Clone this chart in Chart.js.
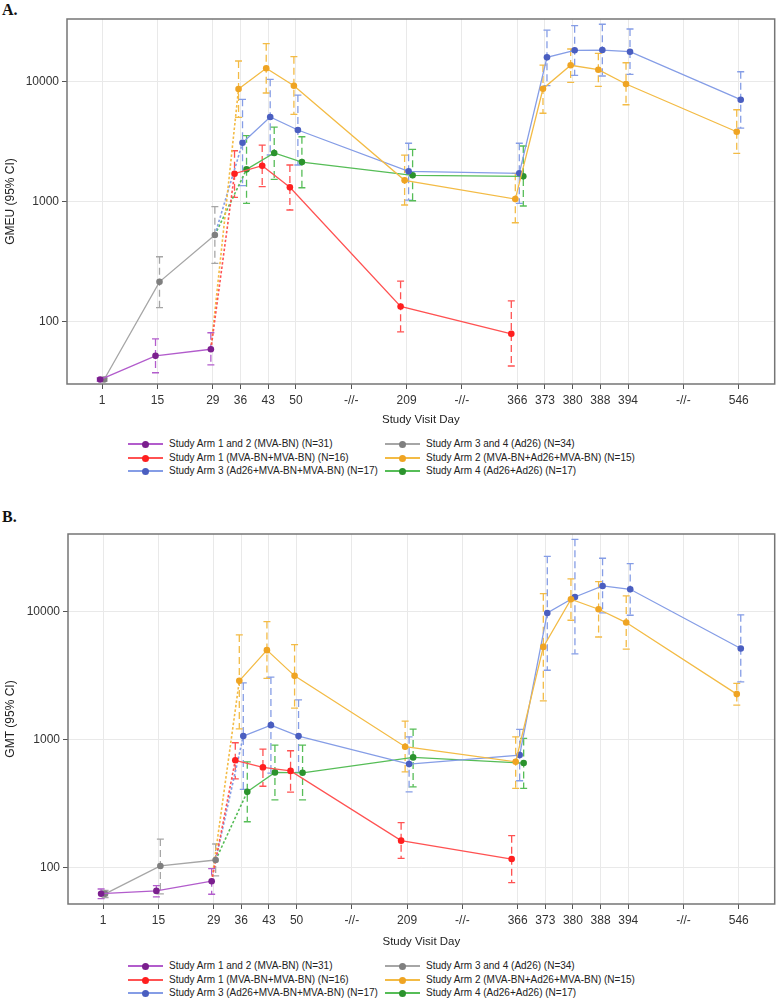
<!DOCTYPE html>
<html>
<head>
<meta charset="utf-8">
<script src="https://cdn.jsdelivr.net/npm/chart.js@4.4.1/dist/chart.umd.min.js"></script>
<style>
html,body{margin:0;padding:0;background:#fff;}
#page{position:relative;width:778px;height:1000px;overflow:hidden;font-family:"Liberation Sans",Arial,sans-serif;}
#page canvas{position:absolute;left:0;}
.plabel{position:absolute;left:2px;font-family:"Liberation Serif","Times New Roman",serif;font-weight:bold;font-size:16px;line-height:16px;color:#111;}
.leg{position:absolute;font-size:10px;line-height:12px;color:#222;white-space:nowrap;padding-left:41px;}
.leg .ln{position:absolute;left:0;top:5px;width:35px;height:0;border-top:2px solid;}
.leg .dt{position:absolute;left:14px;top:3px;width:7px;height:7px;border-radius:50%;}
</style>
</head>
<body>
<div id="page">
  <div class="plabel" style="top:2px;">A.</div>
  <canvas id="chartA" width="778" height="430" style="top:0px;"></canvas>
  <div class="plabel" style="top:509px;">B.</div>
  <canvas id="chartB" width="778" height="442" style="top:510px;"></canvas>
</div>
<script>
// ---------- axis ----------
const axisLabels = ['1','15','29','36','43','50','-//-','209','-//-','366','373','380','388','394','-//-','546'];
const axisSlots  = [0, 2, 4, 5, 6, 7, 9, 11, 13, 15, 16, 17, 18, 19, 21, 23];
const yTickValues = [100, 1000, 10000];

// ---------- visit days per series ----------
const daysEarly = [1, 15, 29];
const daysShort = [36, 43, 50, 209, 366];
const daysLong  = [36, 43, 50, 209, 366, 373, 380, 388, 394, 546];

// ---------- Panel A: GMEU (95% CI) ----------
const aArm12   = [33, 52, 59];
const aArm12Lo = [32, 37.6, 43.8];
const aArm12Hi = [34, 72, 81];
const aArm34   = [33, 215, 528];
const aArm34Lo = [32, 131, 307];
const aArm34Hi = [34, 348, 909];
const aArm1    = [1711, 1995, 1318, 134, 79.4];
const aArm1Lo  = [1088, 1334, 853, 82.5, 42.8];
const aArm1Hi  = [2660, 2968, 2023, 218, 149];
const aArm2    = [8690, 12930, 9260, 1507, 1053, 8740, 13700, 12590, 9570, 3830];
const aArm2Lo  = [5045, 8050, 5350, 939, 668, 5460, 9890, 9160, 6430, 2530];
const aArm2Hi  = [14880, 20740, 16150, 2449, 1725, 13770, 18730, 17250, 14390, 5840];
const aArm3    = [3100, 5080, 3960, 1792, 1725, 15960, 18270, 18360, 17780, 7080];
const aArm3Lo  = [1360, 2450, 2023, 1033, 970, 9260, 11290, 11160, 11530, 4110];
const aArm3Hi  = [7130, 10470, 7740, 3070, 3070, 26900, 29300, 30100, 27500, 12110];
const aArm4    = [1862, 2547, 2141, 1660, 1628];
const aArm4Lo  = [970, 1537, 1308, 1019, 921];
const aArm4Hi  = [3550, 4190, 3480, 2735, 2913];

// ---------- Panel B: GMT (95% CI) ----------
const bArm12   = [62.1, 65.3, 77.8];
const bArm12Lo = [56.9, 58.6, 61.5];
const bArm12Hi = [67.6, 71.8, 97.5];
const bArm34   = [62, 102.4, 114];
const bArm34Lo = [58, 62, 85.5];
const bArm34Hi = [66, 166, 152];
const bArm1    = [686, 604, 567, 161.5, 116];
const bArm1Lo  = [492, 430, 387, 117.5, 75.9];
const bArm1Hi  = [941, 840, 815, 223, 176.6];
const bArm2    = [2870, 4990, 3140, 876, 668, 5290, 12480, 10420, 8200, 2260];
const bArm2Lo  = [1210, 2998, 1756, 558, 414, 2000, 8550, 6320, 5076, 1854];
const bArm2Hi  = [6560, 8350, 5520, 1390, 1048, 13800, 17990, 17140, 13240, 2738];
const bArm3    = [1061, 1293, 1061, 641, 754, 9750, 13000, 15850, 14930, 5140];
const bArm3Lo  = [407, 545, 553, 389, 475, 3475, 4665, 9750, 9350, 2820];
const bArm3Hi  = [2766, 3070, 2037, 1048, 1197, 27040, 36700, 26100, 23710, 9420];
const bArm4    = [389, 552, 548, 723, 653];
const bArm4Lo  = [227, 336, 336, 426, 414];
const bArm4Hi  = [668, 902, 902, 1204, 1018];

// ---------- series styling ----------
const arms = {
  arm12: {label:'Study Arm 1 and 2 (MVA-BN) (N=31)',          marker:'#7b1f8e', line:'#b25ccc', shift:-0.072},
  arm34: {label:'Study Arm 3 and 4 (Ad26) (N=34)',            marker:'#7f7f7f', line:'#a6a6a6', shift: 0.072},
  arm1:  {label:'Study Arm 1 (MVA-BN+MVA-BN) (N=16)',         marker:'#ff1f1f', line:'#ff5252', shift:-0.217},
  arm2:  {label:'Study Arm 2 (MVA-BN+Ad26+MVA-BN) (N=15)',    marker:'#efa423', line:'#f3bb45', shift:-0.072},
  arm3:  {label:'Study Arm 3 (Ad26+MVA-BN+MVA-BN) (N=17)',    marker:'#4a5ec0', line:'#859de6', shift: 0.072},
  arm4:  {label:'Study Arm 4 (Ad26+Ad26) (N=17)',             marker:'#2b932d', line:'#56bd57', shift: 0.217}
};
const legendOrder = ['arm12','arm34','arm1','arm2','arm3','arm4'];

function slotOfDay(d){ return axisSlots[axisLabels.indexOf(String(d))]; }

function armDataset(arm, days, gm, lo, hi){
  return {
    label: arm.label,
    data: days.map((d,i)=>({x: slotOfDay(d)+arm.shift, y: gm[i]})),
    errLo: lo, errHi: hi, errColor: arm.line,
    borderColor: arm.line, backgroundColor: arm.marker,
    pointBackgroundColor: arm.marker, pointBorderColor: arm.marker,
    pointRadius: 3.3, pointBorderWidth: 0, pointHoverRadius: 3.3,
    borderWidth: 1.3, showLine: true, tension: 0, order: 1
  };
}
function connector(fromArm, fromDays, fromGm, toArm, toDays, toGm){
  const i = fromDays.length - 1;
  return {
    label: '',
    data: [{x: slotOfDay(fromDays[i])+fromArm.shift, y: fromGm[i]},
           {x: slotOfDay(toDays[0])+toArm.shift,     y: toGm[0]}],
    borderColor: toArm.line, borderDash:[2.5,2], borderWidth:1.6,
    pointRadius:0, showLine:true, tension:0, order: 3
  };
}

const errorBarPlugin = {
  id: 'errbars',
  beforeDatasetsDraw(chart){
    const {ctx, chartArea, scales:{x, y}} = chart;
    ctx.save();
    ctx.beginPath();
    ctx.rect(chartArea.left, chartArea.top, chartArea.right-chartArea.left, chartArea.bottom-chartArea.top);
    ctx.clip();
    chart.data.datasets.forEach(ds=>{
      if(!ds.errLo) return;
      ds.data.forEach((p,i)=>{
        const px = x.getPixelForValue(p.x);
        const yl = y.getPixelForValue(ds.errLo[i]);
        const yh = y.getPixelForValue(ds.errHi[i]);
        ctx.strokeStyle = ds.errColor;
        ctx.lineWidth = 1.3;
        ctx.setLineDash([7,4]);
        ctx.beginPath(); ctx.moveTo(px, yh); ctx.lineTo(px, yl); ctx.stroke();
        ctx.setLineDash([]);
        ctx.beginPath();
        ctx.moveTo(px-3.5, yh); ctx.lineTo(px+3.5, yh);
        ctx.moveTo(px-3.5, yl); ctx.lineTo(px+3.5, yl);
        ctx.stroke();
      });
    });
    ctx.restore();
  },
  afterDraw(chart){
    const {ctx, chartArea:a} = chart;
    ctx.save();
    ctx.strokeStyle = '#757575';
    ctx.lineWidth = 1.5;
    ctx.strokeRect(a.left, a.top, a.right-a.left, a.bottom-a.top);
    ctx.restore();
  }
};

function makeChart(id, cfg){
  const ds = [
    armDataset(arms.arm12, daysEarly, cfg.g12, cfg.l12, cfg.h12),
    armDataset(arms.arm34, daysEarly, cfg.g34, cfg.l34, cfg.h34),
    armDataset(arms.arm1,  daysShort, cfg.g1,  cfg.l1,  cfg.h1),
    armDataset(arms.arm2,  daysLong,  cfg.g2,  cfg.l2,  cfg.h2),
    armDataset(arms.arm3,  daysLong,  cfg.g3,  cfg.l3,  cfg.h3),
    armDataset(arms.arm4,  daysShort, cfg.g4,  cfg.l4,  cfg.h4),
    connector(arms.arm12, daysEarly, cfg.g12, arms.arm1, daysShort, cfg.g1),
    connector(arms.arm12, daysEarly, cfg.g12, arms.arm2, daysLong,  cfg.g2),
    connector(arms.arm34, daysEarly, cfg.g34, arms.arm3, daysLong,  cfg.g3),
    connector(arms.arm34, daysEarly, cfg.g34, arms.arm4, daysShort, cfg.g4)
  ];
  return new Chart(document.getElementById(id), {
    type: 'scatter',
    data: { datasets: ds },
    plugins: [errorBarPlugin],
    options: {
      responsive: false, animation: false, devicePixelRatio: 1,
      layout: { padding: { top: cfg.padTop, right: 2, left: 0, bottom: 0 } },
      plugins: { legend: {display:false}, tooltip: {enabled:false}, title:{display:false} },
      scales: {
        x: {
          type: 'linear', min: -1.27, max: 24.3,
          afterBuildTicks: s => { s.ticks = axisSlots.map(v => ({value: v})); },
          afterFit: s => { s.height = cfg.xHeight; },
          ticks: { autoSkip:false, maxRotation:0, padding:4, color:'#333',
                   font:{family:'"Liberation Sans", Arial, sans-serif', size:12},
                   callback: (v, i) => axisLabels[i] },
          grid: { color:'#e9e9e9', lineWidth:1, tickColor:'#555', tickLength:5, drawTicks:true },
          border: { display:false },
          title: { display:true, text:'Study Visit Day', color:'#222',
                   font:{family:'"Liberation Sans", Arial, sans-serif', size:11.5},
                   padding:{top:0, bottom:3} }
        },
        y: {
          type: 'logarithmic', min: cfg.yMin, max: cfg.yMax,
          afterBuildTicks: s => { s.ticks = yTickValues.map(v => ({value: v})); },
          afterFit: s => { s.width = cfg.yWidth; },
          ticks: { padding:3, color:'#333',
                   font:{family:'"Liberation Sans", Arial, sans-serif', size:12},
                   callback: v => String(v) },
          grid: { color:'#e9e9e9', lineWidth:1, tickColor:'#555', tickLength:5, drawTicks:true },
          border: { display:false },
          title: { display:true, text: cfg.yTitle, color:'#222',
                   font:{family:'"Liberation Sans", Arial, sans-serif', size:12},
                   padding:{top:3, bottom:0} }
        }
      }
    }
  });
}

makeChart('chartA', {
  yTitle:'GMEU (95% CI)', yMin:30.3, yMax:33300, padTop:19, xHeight:46, yWidth:67,
  g12:aArm12, l12:aArm12Lo, h12:aArm12Hi, g34:aArm34, l34:aArm34Lo, h34:aArm34Hi,
  g1:aArm1, l1:aArm1Lo, h1:aArm1Hi, g2:aArm2, l2:aArm2Lo, h2:aArm2Hi,
  g3:aArm3, l3:aArm3Lo, h3:aArm3Hi, g4:aArm4, l4:aArm4Lo, h4:aArm4Hi
});
makeChart('chartB', {
  yTitle:'GMT (95% CI)', yMin:51.6, yMax:40400, padTop:24, xHeight:48, yWidth:68,
  g12:bArm12, l12:bArm12Lo, h12:bArm12Hi, g34:bArm34, l34:bArm34Lo, h34:bArm34Hi,
  g1:bArm1, l1:bArm1Lo, h1:bArm1Hi, g2:bArm2, l2:bArm2Lo, h2:bArm2Hi,
  g3:bArm3, l3:bArm3Lo, h3:bArm3Hi, g4:bArm4, l4:bArm4Lo, h4:bArm4Hi
});

// ---------- HTML legends ----------
function buildLegend(rowTops){
  const page = document.getElementById('page');
  const colLeft = [128, 385];
  legendOrder.forEach((k, i)=>{
    const arm = arms[k];
    const el = document.createElement('div');
    el.className = 'leg';
    el.style.left = colLeft[i % 2] + 'px';
    el.style.top = rowTops[Math.floor(i / 2)] + 'px';
    const ln = document.createElement('span'); ln.className = 'ln'; ln.style.borderColor = arm.line;
    const dt = document.createElement('span'); dt.className = 'dt'; dt.style.background = arm.marker;
    el.appendChild(ln); el.appendChild(dt);
    el.appendChild(document.createTextNode(arm.label));
    page.appendChild(el);
  });
}
buildLegend([438, 451.5, 465]);
buildLegend([960, 973.5, 987]);
</script>
</body>
</html>
